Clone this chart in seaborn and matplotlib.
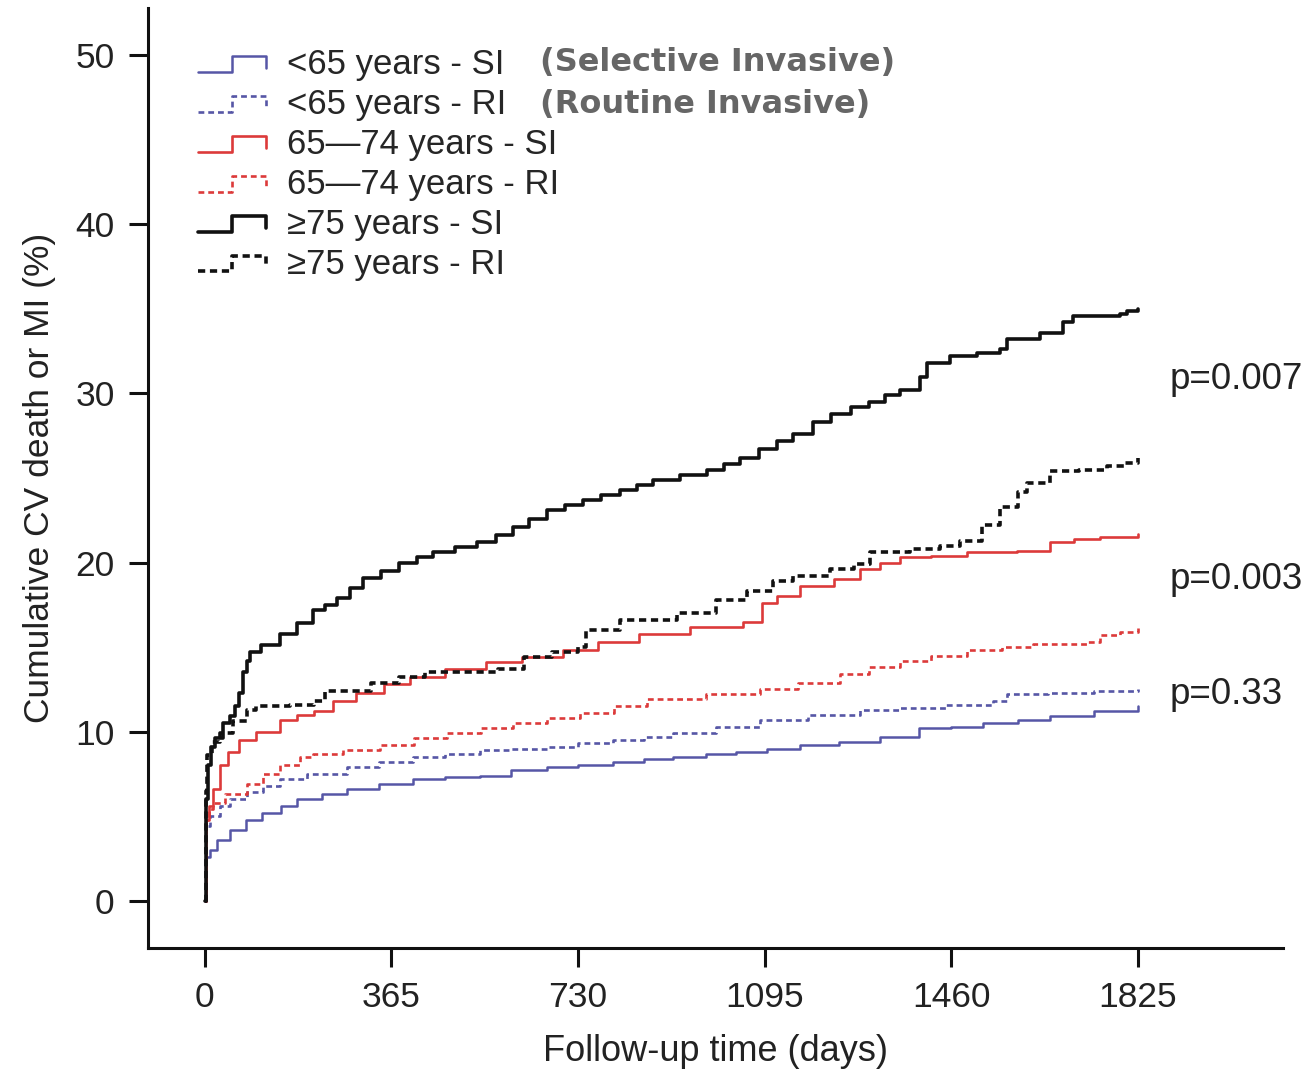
import matplotlib
matplotlib.use("Agg")
import matplotlib.pyplot as plt
from matplotlib.legend_handler import HandlerLine2D
from matplotlib.lines import Line2D
import seaborn as sns

# Cumulative CV death or MI (%), day -> percent
lt65_si_days = [0, 2, 10, 25, 49, 80, 113, 150, 180, 230, 278, 340, 407, 470, 538, 600, 669, 730, 798, 860,
                915, 980, 1040, 1100, 1164, 1240, 1320, 1398, 1460, 1522, 1590, 1653, 1740, 1825]
lt65_si_pct = [0, 2.6, 3.0, 3.6, 4.2, 4.8, 5.2, 5.6, 6.0, 6.3, 6.6, 6.9, 7.2, 7.3, 7.4, 7.7, 7.9, 8.0, 8.2, 8.4,
               8.5, 8.7, 8.8, 9.0, 9.2, 9.4, 9.7, 10.2, 10.3, 10.5, 10.7, 10.9, 11.2, 11.5]

lt65_ri_days = [0, 2, 10, 30, 50, 82, 115, 147, 200, 278, 340, 407, 470, 538, 600, 669, 730, 798, 860, 915,
                1000, 1086, 1180, 1281, 1359, 1450, 1542, 1569, 1650, 1740, 1825]
lt65_ri_pct = [0, 4.4, 5.0, 5.6, 6.0, 6.4, 6.8, 7.2, 7.5, 7.9, 8.2, 8.5, 8.7, 8.9, 9.0, 9.1, 9.3, 9.5, 9.7, 9.9,
               10.3, 10.7, 11.0, 11.3, 11.4, 11.6, 11.8, 12.2, 12.3, 12.4, 12.5]

mid_si_days = [0, 2, 8, 16, 29, 45, 68, 100, 147, 180, 213, 250, 295, 350, 401, 470, 550, 620, 700, 770, 849,
               950, 1052, 1090, 1119, 1164, 1230, 1281, 1320, 1359, 1420, 1491, 1588, 1653, 1700, 1751, 1825]
mid_si_pct = [0, 4.8, 5.6, 6.6, 8.0, 8.8, 9.5, 10.0, 10.7, 11.0, 11.2, 11.8, 12.3, 12.8, 13.2, 13.7, 14.1, 14.4,
              14.8, 15.3, 15.8, 16.2, 16.5, 17.6, 18.0, 18.6, 19.0, 19.6, 20.0, 20.3, 20.4, 20.6, 20.7, 21.2,
              21.4, 21.5, 21.7]

mid_ri_days = [0, 2, 8, 16, 40, 82, 115, 147, 186, 211, 270, 342, 410, 473, 540, 603, 670, 734, 800, 865, 980,
               1086, 1160, 1242, 1300, 1359, 1420, 1491, 1560, 1620, 1725, 1751, 1790, 1825]
mid_ri_pct = [0, 4.8, 5.4, 5.8, 6.3, 6.9, 7.5, 8.0, 8.5, 8.7, 8.9, 9.2, 9.6, 9.9, 10.2, 10.5, 10.8, 11.1, 11.5,
              11.9, 12.2, 12.5, 12.9, 13.4, 13.8, 14.2, 14.5, 14.8, 15.0, 15.2, 15.3, 15.7, 15.9, 16.1]

ge75_si_days = [0, 2, 6, 12, 20, 35, 49, 60, 68, 74, 82, 88, 110, 147, 180, 211, 235, 258, 285, 309, 345, 381,
                415, 446, 490, 532, 570, 603, 635, 669, 705, 740, 775, 812, 845, 877, 930, 982, 1015, 1047,
                1085, 1119, 1150, 1190, 1225, 1265, 1300, 1330, 1359, 1399, 1412, 1458, 1510, 1555, 1569,
                1634, 1679, 1698, 1790, 1803, 1825]
ge75_si_pct = [0, 6.0, 8.0, 9.1, 9.6, 10.5, 10.9, 11.5, 12.3, 13.5, 14.2, 14.7, 15.1, 15.8, 16.4, 17.2, 17.5,
               17.9, 18.5, 19.1, 19.5, 20.0, 20.3, 20.6, 20.9, 21.2, 21.6, 22.1, 22.6, 23.1, 23.4, 23.7, 24.0,
               24.3, 24.6, 24.9, 25.2, 25.5, 25.8, 26.2, 26.7, 27.2, 27.6, 28.3, 28.8, 29.2, 29.5, 29.9, 30.2,
               31.0, 31.8, 32.2, 32.4, 32.6, 33.2, 33.6, 34.2, 34.6, 34.7, 34.9, 35.0]

ge75_ri_days = [0, 2, 5, 15, 30, 55, 82, 101, 166, 213, 235, 325, 380, 430, 573, 624, 680, 730, 745, 812, 923,
                1000, 1060, 1111, 1150, 1223, 1270, 1301, 1380, 1438, 1477, 1520, 1555, 1590, 1608, 1653,
                1710, 1764, 1800, 1825]
ge75_ri_pct = [0, 6.5, 8.6, 9.4, 9.9, 10.6, 11.3, 11.5, 11.6, 11.8, 12.4, 12.9, 13.2, 13.5, 13.7, 14.4, 14.7,
               15.0, 16.0, 16.6, 17.0, 17.8, 18.3, 18.9, 19.2, 19.6, 19.9, 20.6, 20.8, 21.0, 21.3, 22.2, 23.3,
               24.2, 24.7, 25.4, 25.5, 25.7, 25.9, 26.2]

labels = ["<65 years - SI", "<65 years - RI", "65\u201474 years - SI", "65\u201474 years - RI",
          "\u226575 years - SI", "\u226575 years - RI"]
xticks = [0, 365, 730, 1095, 1460, 1825]
yticks = [0, 10, 20, 30, 40, 50]
p_values = ["p=0.007", "p=0.003", "p=0.33"]
p_ypos = [30.8, 19.0, 12.2]

blue = "#5656a6"
red = "#dc3a3a"
black = "#111111"

sns.set_style("ticks")
plt.rcParams["font.family"] = ["Liberation Sans", "DejaVu Sans"]

fig = plt.figure(figsize=(13.07, 10.74), dpi=100)
ax = fig.add_axes([0.1132, 0.1173, 0.8684, 0.8753])

series = [
    (lt65_si_days, lt65_si_pct, blue, "-", 1.8),
    (lt65_ri_days, lt65_ri_pct, blue, (0, (2.2, 1.5)), 1.9),
    (mid_si_days, mid_si_pct, red, "-", 1.9),
    (mid_ri_days, mid_ri_pct, red, (0, (2.2, 1.5)), 1.9),
    (ge75_si_days, ge75_si_pct, black, "-", 2.6),
    (ge75_ri_days, ge75_ri_pct, black, (0, (2.0, 1.3)), 2.6),
]
for (d, p, c, ls, lw), lab in zip(series, labels):
    sns.lineplot(x=d, y=p, ax=ax, color=c, linestyle=ls, linewidth=lw,
                 drawstyle="steps-post", estimator=None, sort=False, label=lab)


class StepHandler(HandlerLine2D):
    # step-shaped legend key, like a survival curve
    def create_artists(self, legend, orig_handle, xdescent, ydescent, width, height, fontsize, trans):
        x0 = -xdescent
        y0 = -ydescent + height * 0.1
        y1 = -ydescent + height * 0.75
        xs = [x0, x0 + width * 0.5, x0 + width * 0.5, x0 + width, x0 + width]
        ys = [y0, y0, y1, y1, y0 + height * 0.15]
        line = Line2D(xs, ys)
        line.update_from(orig_handle)
        line.set_drawstyle("default")
        line.set_transform(trans)
        return [line]


handles, labs = ax.get_legend_handles_labels()
ax.legend(handles, labs, handler_map={Line2D: StepHandler()}, loc="upper left",
          bbox_to_anchor=(0.032, 0.972), frameon=False, fontsize=25,
          handlelength=1.95, handletextpad=0.62, labelspacing=0.2, borderaxespad=0.0)

fig.text(540 / 1307, 1 - 62 / 1074, "(Selective Invasive)", family="DejaVu Sans", weight="bold",
         fontsize=23, color="#666666", va="center", ha="left")
fig.text(540 / 1307, 1 - 105 / 1074, "(Routine Invasive)", family="DejaVu Sans", weight="bold",
         fontsize=23, color="#666666", va="center", ha="left")

for txt, yv in zip(p_values, p_ypos):
    ax.text(1888, yv, txt, fontsize=26.5, color="#222222", va="center", ha="left", clip_on=False)

ax.set_xlim(-111, 2109)
ax.set_ylim(-2.8, 52.8)
ax.set_xticks(xticks)
ax.set_yticks(yticks)
ax.tick_params(axis="both", direction="out", length=14, width=2.2, labelsize=25.5, color="#111111",
               labelcolor="#222222")
ax.tick_params(axis="x", pad=10)
ax.tick_params(axis="y", pad=10)
for s in ["top", "right"]:
    ax.spines[s].set_visible(False)
for s in ["left", "bottom"]:
    ax.spines[s].set_linewidth(2.2)
    ax.spines[s].set_color("#111111")
ax.set_xlabel("Follow-up time (days)", fontsize=26, color="#222222", labelpad=14)
ax.set_ylabel("Cumulative CV death or MI (%)", fontsize=25.5, color="#222222", labelpad=14)

fig.savefig("out.png", dpi=100)
